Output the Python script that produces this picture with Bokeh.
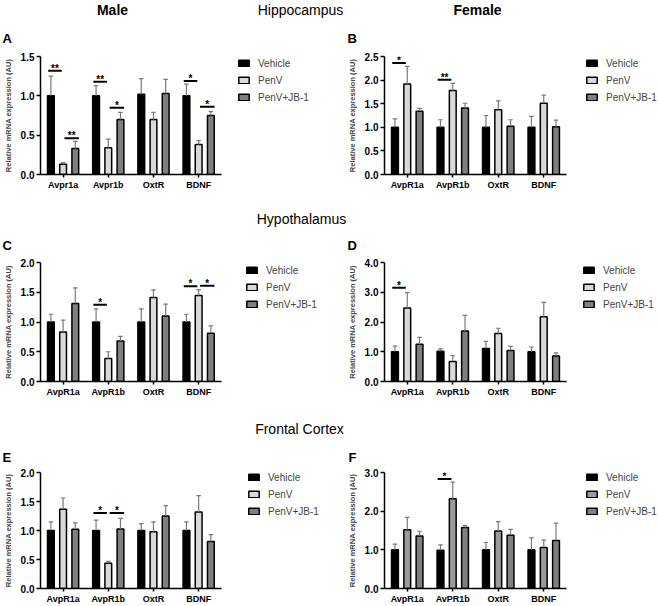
from bokeh.plotting import figure
from bokeh.models import (ColumnDataSource, Range1d, FixedTicker,
                          PrintfTickFormatter, Legend, LegendItem, Label)
from bokeh.transform import dodge
from bokeh.layouts import column, row
from bokeh.core.properties import value
from bokeh.embed import file_html
from bokeh.resources import INLINE

FONT = "Liberation Sans"
GROUPS = ["Vehicle", "PenV", "PenV+JB-1"]

# ---------------- data (mean, SEM) ----------------
# A: Male hippocampus
A_GENES = ["Avpr1a", "Avpr1b", "OxtR", "BDNF"]
A_VEH = [1.00, 1.00, 1.02, 1.00]
A_VEH_SEM = [0.25, 0.13, 0.20, 0.15]
A_PENV = [0.13, 0.34, 0.70, 0.38]
A_PENV_SEM = [0.02, 0.11, 0.09, 0.05]
A_JB = [0.33, 0.70, 1.03, 0.75]
A_JB_SEM = [0.09, 0.09, 0.18, 0.05]
A_SIG = [("Avpr1a", 0, 1, 1.32, "**"), ("Avpr1a", 1, 2, 0.46, "**"),
         ("Avpr1b", 0, 1, 1.18, "**"), ("Avpr1b", 1, 2, 0.85, "*"),
         ("BDNF", 0, 1, 1.19, "*"), ("BDNF", 1, 2, 0.86, "*")]
A_TICKS = [0.0, 0.5, 1.0, 1.5]

# B: Female hippocampus
B_GENES = ["AvpR1a", "AvpR1b", "OxtR", "BDNF"]
B_VEH = [1.00, 1.00, 1.00, 1.00]
B_VEH_SEM = [0.18, 0.16, 0.25, 0.23]
B_PENV = [1.92, 1.78, 1.37, 1.51]
B_PENV_SEM = [0.37, 0.15, 0.19, 0.17]
B_JB = [1.34, 1.41, 1.02, 1.01]
B_JB_SEM = [0.06, 0.10, 0.14, 0.14]
B_SIG = [("AvpR1a", 0, 1, 2.36, "*"), ("AvpR1b", 0, 1, 2.01, "**")]
B_TICKS = [0.0, 0.5, 1.0, 1.5, 2.0, 2.5]

# C: Male hypothalamus
C_GENES = ["AvpR1a", "AvpR1b", "OxtR", "BDNF"]
C_VEH = [1.00, 1.00, 1.00, 1.00]
C_VEH_SEM = [0.13, 0.22, 0.22, 0.13]
C_PENV = [0.83, 0.385, 1.41, 1.445]
C_PENV_SEM = [0.20, 0.115, 0.13, 0.10]
C_JB = [1.31, 0.68, 1.10, 0.81]
C_JB_SEM = [0.265, 0.08, 0.20, 0.125]
C_SIG = [("AvpR1b", 0, 1, 1.29, "*"), ("BDNF", 0, 1, 1.60, "*"),
         ("BDNF", 1, 2, 1.61, "*")]
C_TICKS = [0.0, 0.5, 1.0, 1.5, 2.0]

# D: Female hypothalamus
D_GENES = ["AvpR1a", "AvpR1b", "OxtR", "BDNF"]
D_VEH = [1.00, 1.02, 1.11, 1.00]
D_VEH_SEM = [0.19, 0.08, 0.24, 0.16]
D_PENV = [2.47, 0.67, 1.61, 2.18]
D_PENV_SEM = [0.52, 0.20, 0.18, 0.48]
D_JB = [1.25, 1.70, 1.04, 0.86]
D_JB_SEM = [0.23, 0.52, 0.14, 0.10]
D_SIG = [("AvpR1a", 0, 1, 3.15, "*")]
D_TICKS = [0.0, 1.0, 2.0, 3.0, 4.0]

# E: Male frontal cortex
E_GENES = ["AvpR1a", "AvpR1b", "OxtR", "BDNF"]
E_VEH = [1.00, 1.00, 1.00, 1.00]
E_VEH_SEM = [0.15, 0.18, 0.12, 0.15]
E_PENV = [1.365, 0.436, 0.98, 1.32]
E_PENV_SEM = [0.195, 0.03, 0.17, 0.28]
E_JB = [1.02, 1.025, 1.25, 0.81]
E_JB_SEM = [0.11, 0.185, 0.18, 0.12]
E_SIG = [("AvpR1b", 0, 1, 1.30, "*"), ("AvpR1b", 1, 2, 1.30, "*")]
E_TICKS = [0.0, 0.5, 1.0, 1.5, 2.0]

# F: Female frontal cortex
F_GENES = ["AvpR1a", "AvPR1b", "OxtR", "BDNF"]
F_VEH = [1.00, 0.99, 1.00, 1.00]
F_VEH_SEM = [0.15, 0.14, 0.19, 0.31]
F_PENV = [1.52, 2.32, 1.49, 1.06]
F_PENV_SEM = [0.32, 0.43, 0.24, 0.19]
F_JB = [1.36, 1.58, 1.38, 1.24]
F_JB_SEM = [0.12, 0.05, 0.15, 0.45]
F_SIG = [("AvPR1b", 0, 1, 2.83, "*")]
F_TICKS = [0.0, 1.0, 2.0, 3.0]

# ---------------- styling / geometry ----------------
COLORS = ["#000000", "#d9d9d9", "#7f7f7f"]
COLORS_F = ["#000000", "#9b9b9b", "#7f7f7f"]
ERR_COLOR = "#7a7a7a"
OFFS = [-0.27, 0.0, 0.27]
SIG_START = [-0.06, 0.03, 0.0]
SIG_END = [0.0, -0.03, 0.08]
BAR_W = 0.15
W = 329
CAT_PX = 45.5
ROW_GEOM = [dict(h=152, top=8, fh=118), dict(h=155, top=7, fh=119), dict(h=141, top=7, fh=118)]
COL_LEFT = [38, 55]
LEG_H = 46


def make_panel(genes, veh, veh_sem, penv, penv_sem, jb, jb_sem, sig, ticks,
               r, c, colors, legend_dx, legend_dy):
    rg = ROW_GEOM[r]
    left = COL_LEFT[c]
    n = len(genes)
    pos = [i + 1 for i in range(n)]
    x_end = 0.5 + (W - left) / CAT_PX
    p = figure(width=W, height=rg["h"], x_range=Range1d(0.5, x_end),
               y_range=Range1d(0, ticks[-1]), toolbar_location=None, output_backend="svg",
               title=None, min_border_left=left, min_border_right=0,
               min_border_top=rg["top"], min_border_bottom=rg["h"] - rg["top"] - rg["fh"])
    src = ColumnDataSource(dict(
        pos=pos,
        m0=veh, t0=[a + b for a, b in zip(veh, veh_sem)],
        m1=penv, t1=[a + b for a, b in zip(penv, penv_sem)],
        m2=jb, t2=[a + b for a, b in zip(jb, jb_sem)],
    ))
    bars = []
    for k in range(3):
        off = OFFS[k]
        xb = dodge("pos", off)
        rb = p.vbar(x=xb, top="m%d" % k, width=BAR_W, fill_color=colors[k],
                    line_color="black", line_width=1.5, source=src)
        bars.append(rb)
        p.segment(x0=xb, y0="m%d" % k, x1=xb, y1="t%d" % k, line_color=ERR_COLOR,
                  line_width=1.2, source=src)
        p.segment(x0=dodge("pos", off - 0.05), y0="t%d" % k,
                  x1=dodge("pos", off + 0.05), y1="t%d" % k,
                  line_color=ERR_COLOR, line_width=1.2, source=src)

    sx0, sx1, sxm, sy, sl = [], [], [], [], []
    for gene, a, b, y, lab in sig:
        base = pos[genes.index(gene)]
        x0 = base + OFFS[a] + SIG_START[a]
        x1 = base + OFFS[b] + SIG_END[b]
        sx0.append(x0); sx1.append(x1); sxm.append((x0 + x1) / 2)
        sy.append(y); sl.append(lab)
    ssrc = ColumnDataSource(dict(x0=sx0, x1=sx1, xm=sxm, y=sy, lab=sl))
    p.segment(x0="x0", y0="y", x1="x1", y1="y", line_color="black", line_width=2, source=ssrc)
    p.text(x="xm", y="y", text="lab", text_align="center", text_baseline="bottom",
           text_font=value(FONT), text_font_style="bold", text_font_size="10px",
           y_offset=3, text_color="black", source=ssrc)

    # axes
    for ax in (p.xaxis[0], p.yaxis[0]):
        ax.axis_line_width = 1.5
        ax.axis_line_color = "black"
        ax.major_tick_line_width = 1.5
        ax.major_tick_line_color = "black"
        ax.major_tick_in = 0
        ax.minor_tick_line_color = None
        ax.major_label_text_font = FONT
        ax.major_label_text_font_style = "bold"
        ax.major_label_text_color = "black"
        ax.major_label_standoff = 2
    p.xaxis.bounds = (0.5, n + 0.5)
    p.xaxis.ticker = FixedTicker(ticks=pos)
    p.xaxis.major_label_overrides = {pp: g for pp, g in zip(pos, genes)}
    p.xaxis.major_tick_out = 3
    p.yaxis.major_tick_out = 4
    p.xaxis.major_label_text_font_size = "9px"
    p.yaxis.major_label_text_font_size = "10px"
    p.yaxis.ticker = FixedTicker(ticks=ticks)
    p.yaxis.formatter = PrintfTickFormatter(format="%.1f")
    p.yaxis.axis_label = "Relative mRNA expression (AU)"
    p.yaxis.axis_label_text_font = FONT
    p.yaxis.axis_label_text_font_style = "bold"
    p.yaxis.axis_label_text_font_size = "7.5px"
    p.yaxis.axis_label_standoff = 5
    p.xgrid.grid_line_color = None
    p.ygrid.grid_line_color = None
    p.outline_line_color = None

    items = [LegendItem(label=g, renderers=[rb]) for g, rb in zip(GROUPS, bars)]
    leg = Legend(items=items, location=(legend_dx, rg["fh"] - legend_dy - LEG_H),
                 label_text_font=FONT, label_text_font_size="10px",
                 glyph_width=13, glyph_height=8, label_height=12, label_standoff=8,
                 spacing=5, padding=0, margin=0,
                 border_line_color=None, background_fill_alpha=0)
    p.add_layout(leg)
    return p


def heading(h, entries):
    p = figure(width=658, height=h, x_range=Range1d(0, 658), y_range=Range1d(0, h),
               toolbar_location=None, output_backend="svg", title=None, min_border=0,
               x_axis_location=None, y_axis_location=None, outline_line_color=None)
    p.xgrid.visible = False
    p.ygrid.visible = False
    for x, y, txt, bold, size, align in entries:
        p.add_layout(Label(x=x, y=y, text=txt, text_font=FONT,
                           text_font_style="bold" if bold else "normal",
                           text_font_size=size, text_align=align,
                           text_baseline="middle", text_color="black"))
    return p


h1 = heading(48, [(112, 39, "Male", True, "14px", "center"),
                  (300, 39, "Hippocampus", False, "14px", "center"),
                  (477, 39, "Female", True, "14px", "center"),
                  (2, 10, "A", True, "13px", "left"),
                  (347, 10, "B", True, "13px", "left")])
h2 = heading(55, [(301, 37, "Hypothalamus", False, "14px", "center"),
                  (2, 10, "C", True, "13px", "left"),
                  (347, 10, "D", True, "13px", "left")])
h3 = heading(55, [(299, 37, "Frontal Cortex", False, "14px", "center"),
                  (2, 8.5, "E", True, "13px", "left"),
                  (348, 8.5, "F", True, "13px", "left")])

pA = make_panel(A_GENES, A_VEH, A_VEH_SEM, A_PENV, A_PENV_SEM, A_JB, A_JB_SEM, A_SIG,
                A_TICKS, 0, 0, COLORS, 197, 1)
pB = make_panel(B_GENES, B_VEH, B_VEH_SEM, B_PENV, B_PENV_SEM, B_JB, B_JB_SEM, B_SIG,
                B_TICKS, 0, 1, COLORS, 201, 1)
pC = make_panel(C_GENES, C_VEH, C_VEH_SEM, C_PENV, C_PENV_SEM, C_JB, C_JB_SEM, C_SIG,
                C_TICKS, 1, 0, COLORS, 205, 2)
pD = make_panel(D_GENES, D_VEH, D_VEH_SEM, D_PENV, D_PENV_SEM, D_JB, D_JB_SEM, D_SIG,
                D_TICKS, 1, 1, COLORS, 198, 2)
pE = make_panel(E_GENES, E_VEH, E_VEH_SEM, E_PENV, E_PENV_SEM, E_JB, E_JB_SEM, E_SIG,
                E_TICKS, 2, 0, COLORS, 207, 1)
pF = make_panel(F_GENES, F_VEH, F_VEH_SEM, F_PENV, F_PENV_SEM, F_JB, F_JB_SEM, F_SIG,
                F_TICKS, 2, 1, COLORS_F, 201, 1)

layout = column(h1, row(pA, pB), h2, row(pC, pD), h3, row(pE, pF))

open("out.html", "w").write(file_html(layout, INLINE))
